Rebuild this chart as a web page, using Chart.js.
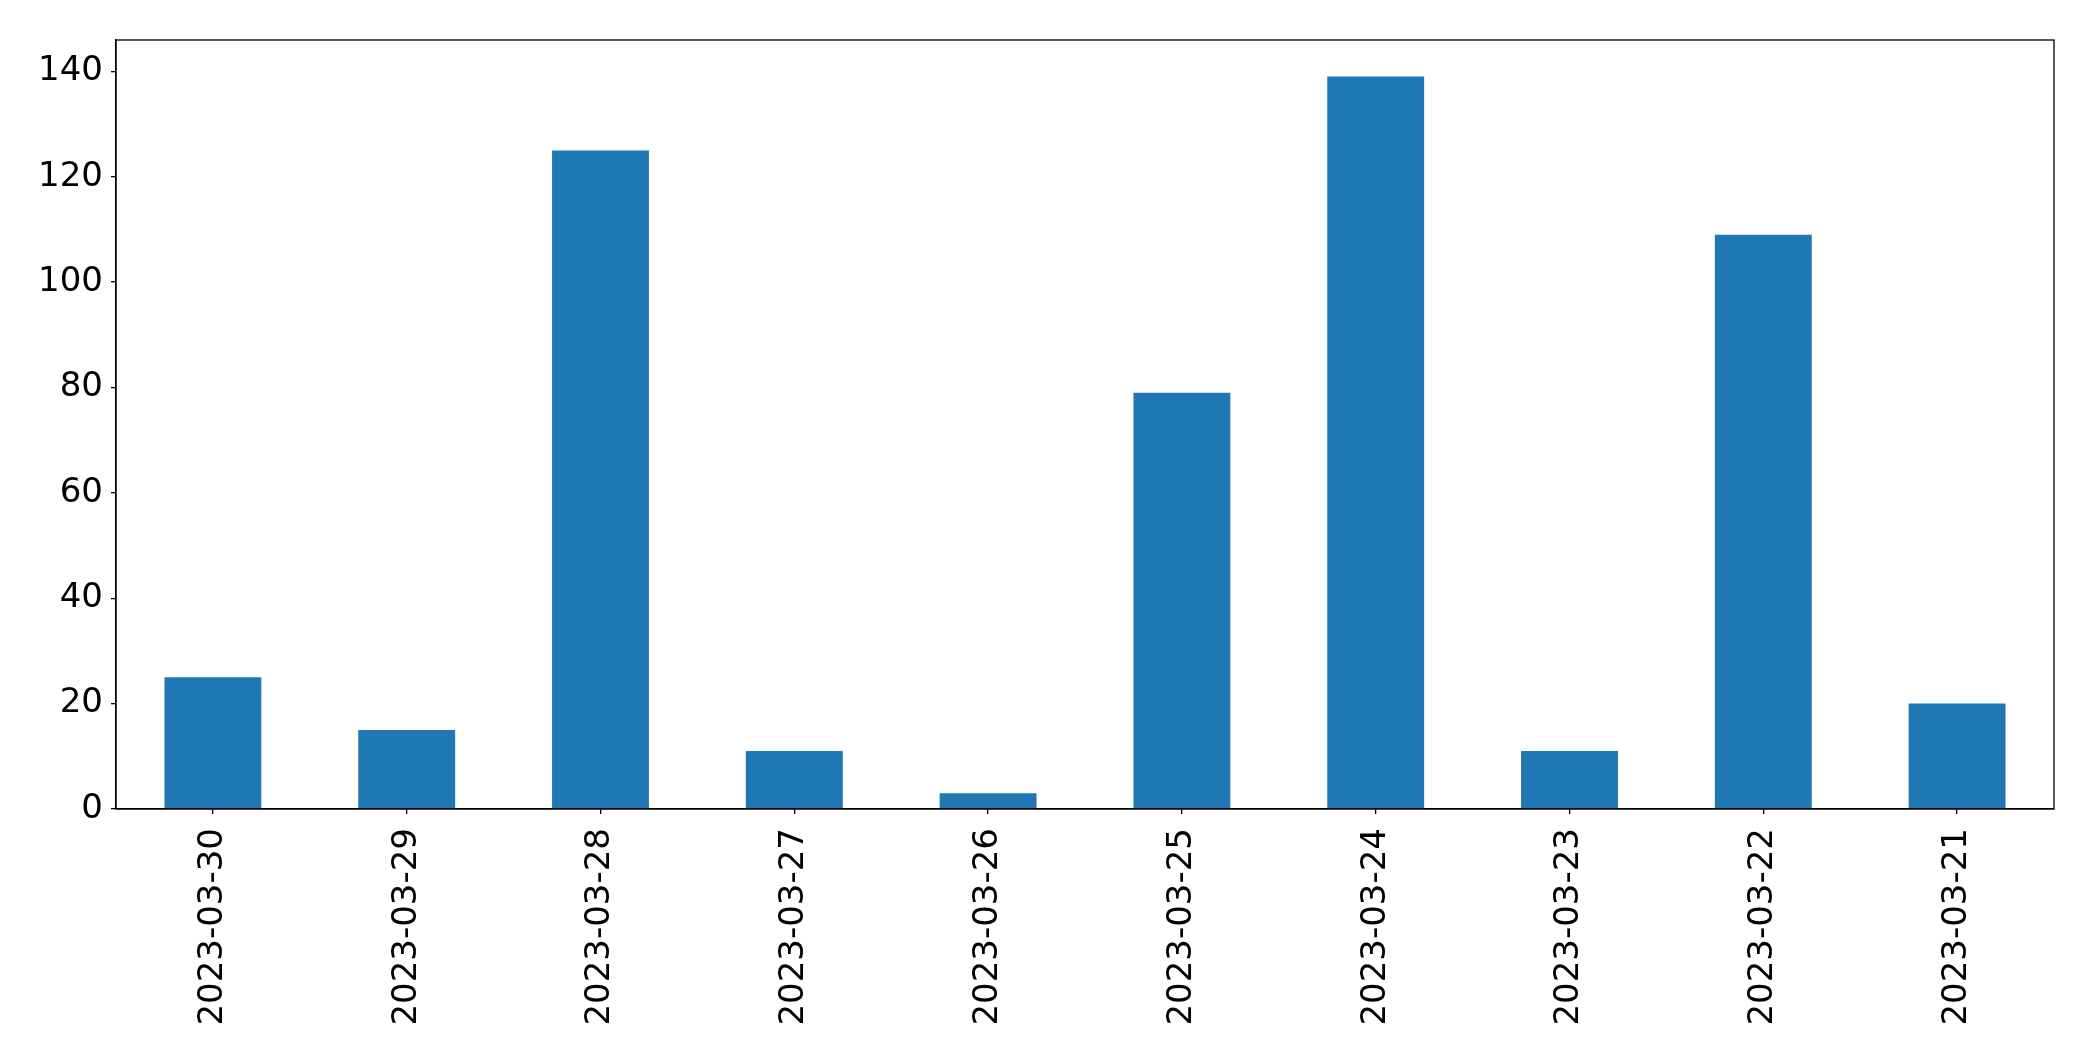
<!DOCTYPE html>
<html>
<head>
<meta charset="utf-8">
<script src="https://cdn.jsdelivr.net/npm/chart.js@4"></script>
<style>
  html, body { margin: 0; padding: 0; background: #fff; }
  #wrap { width: 2093px; height: 1061px; }
</style>
</head>
<body>
<div id="wrap"><canvas id="chart" width="2093" height="1061"></canvas></div>
<script>
const dates = ['2023-03-30', '2023-03-29', '2023-03-28', '2023-03-27', '2023-03-26',
               '2023-03-25', '2023-03-24', '2023-03-23', '2023-03-22', '2023-03-21'];
const counts = [25, 15, 125, 11, 3, 79, 139, 11, 109, 20];
const yTicks = [0, 20, 40, 60, 80, 100, 120, 140];

// draw the top and right edges of the axes box
const frame = {
    id: 'frame',
    afterDraw(chart) {
        const a = chart.chartArea;
        const ctx = chart.ctx;
        ctx.save();
        ctx.strokeStyle = '#000';
        ctx.lineWidth = 1.3;
        ctx.strokeRect(a.left, a.top, a.right - a.left, a.bottom - a.top);
        ctx.restore();
    }
};

Chart.defaults.font.family = 'DejaVu Sans';
Chart.defaults.color = '#000';

new Chart(document.getElementById('chart').getContext('2d'), {
    type: 'bar',
    data: {
        labels: dates,
        datasets: [{
            data: counts,
            backgroundColor: '#1f77b4',
            categoryPercentage: 1.0,
            barPercentage: 0.5
        }]
    },
    options: {
        responsive: false,
        animation: false,
        layout: { padding: { top: 40, right: 39, left: 0, bottom: 0 } },
        plugins: { legend: { display: false }, tooltip: { enabled: false } },
        scales: {
            x: {
                offset: true,
                grid: { display: true, offset: false, drawOnChartArea: false, tickLength: 5, color: '#000', lineWidth: 1.3 },
                border: { display: true, color: '#000', width: 1.3 },
                ticks: { font: { size: 34 }, minRotation: 90, maxRotation: 90, padding: 14, autoSkip: false },
                afterFit(scale) { scale.height = 252; }
            },
            y: {
                min: 0,
                max: 145.95,
                afterBuildTicks(scale) { scale.ticks = yTicks.map(v => ({ value: v })); },
                grid: { display: true, drawOnChartArea: false, tickLength: 5, color: '#000', lineWidth: 1.3 },
                border: { display: true, color: '#000', width: 1.3 },
                ticks: { font: { size: 34 }, padding: 8 },
                afterFit(scale) { scale.width = 116; }
            }
        }
    },
    plugins: [frame]
});
</script>
</body>
</html>
